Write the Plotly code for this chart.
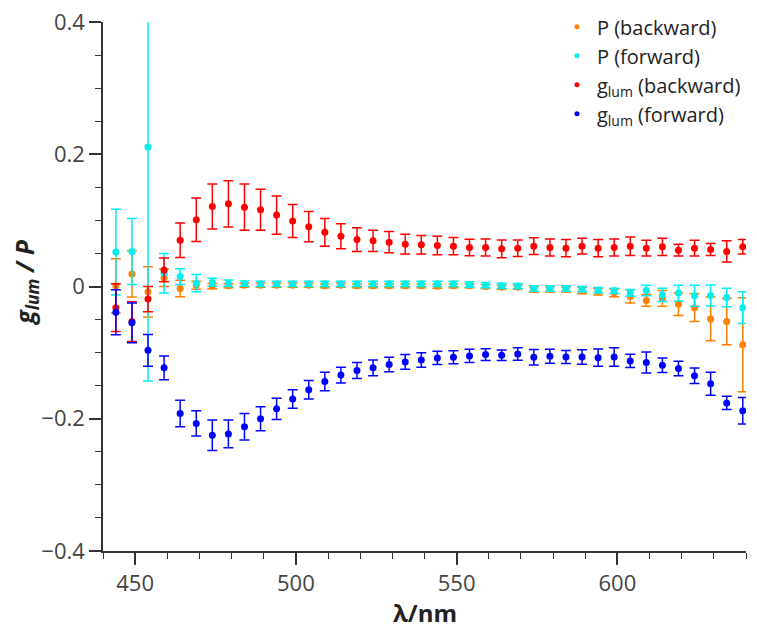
import plotly.graph_objects as go

# Emission wavelength (nm)
wavelength = [444, 449, 454, 459, 464, 469, 474, 479, 484, 489,
              494, 499, 504, 509, 514, 519, 524, 529, 534, 539,
              544, 549, 554, 559, 564, 569, 574, 579, 584, 589,
              594, 599, 604, 609, 614, 619, 624, 629, 634, 639]

# Degree of polarisation P, backward detection
p_back = [0.001, 0.019, -0.008, 0.013, -0.003, 0.002, 0.0005, 0.001, 0.002, 0.002,
          0.002, 0.002, 0.002, 0.001, 0.002, 0.001, 0.001, 0.001, 0.001, 0.001,
          0.0005, 0.001, 0.001, 0.0, -0.001, -0.001, -0.0045, -0.0045, -0.0045, -0.006,
          -0.008, -0.0096, -0.015, -0.021, -0.018, -0.027, -0.032, -0.049, -0.053, -0.088]
p_back_err = [0.041, 0.035, 0.038, 0.013, 0.0125, 0.006, 0.004, 0.003, 0.003, 0.003,
              0.003, 0.003, 0.003, 0.003, 0.003, 0.003, 0.003, 0.003, 0.003, 0.003,
              0.003, 0.003, 0.003, 0.003, 0.003, 0.003, 0.004, 0.004, 0.004, 0.005,
              0.005, 0.006, 0.010, 0.009, 0.012, 0.017, 0.021, 0.033, 0.035, 0.071]

# Degree of polarisation P, forward detection
p_fwd = [0.052, 0.053, 0.211, 0.020, 0.015, 0.005, 0.0065, 0.005, 0.0045, 0.004,
         0.004, 0.004, 0.004, 0.004, 0.004, 0.004, 0.004, 0.004, 0.004, 0.004,
         0.004, 0.004, 0.003, 0.002, 0.001, 0.0006, -0.003, -0.003, -0.003, -0.004,
         -0.0055, -0.0065, -0.0096, -0.006, -0.0126, -0.010, -0.014, -0.0136, -0.0167, -0.032]
p_fwd_err = [0.065, 0.050, 0.354, 0.030, 0.012, 0.013, 0.006, 0.005, 0.004, 0.004,
             0.004, 0.004, 0.004, 0.004, 0.004, 0.004, 0.004, 0.004, 0.004, 0.004,
             0.004, 0.004, 0.004, 0.004, 0.004, 0.004, 0.004, 0.004, 0.004, 0.004,
             0.004, 0.004, 0.005, 0.008, 0.010, 0.012, 0.016, 0.016, 0.014, 0.024]

# Luminescence dissymmetry factor g_lum, backward detection
g_back = [-0.032, -0.053, -0.019, 0.025, 0.070, 0.101, 0.121, 0.125, 0.120, 0.116,
          0.108, 0.099, 0.0905, 0.082, 0.076, 0.071, 0.069, 0.067, 0.064, 0.063,
          0.062, 0.061, 0.059, 0.059, 0.057, 0.058, 0.061, 0.059, 0.058, 0.061,
          0.058, 0.059, 0.061, 0.058, 0.060, 0.055, 0.058, 0.056, 0.053, 0.060]
g_back_err = [0.036, 0.030, 0.019, 0.018, 0.026, 0.033, 0.034, 0.035, 0.035, 0.031,
              0.029, 0.025, 0.023, 0.021, 0.019, 0.018, 0.016, 0.016, 0.015, 0.014,
              0.014, 0.013, 0.0125, 0.013, 0.0135, 0.0125, 0.0126, 0.013, 0.013, 0.012,
              0.013, 0.013, 0.014, 0.012, 0.013, 0.009, 0.012, 0.009, 0.016, 0.011]

# Luminescence dissymmetry factor g_lum, forward detection
g_fwd = [-0.039, -0.055, -0.0965, -0.123, -0.192, -0.207, -0.225, -0.223, -0.212, -0.200,
         -0.185, -0.170, -0.156, -0.1435, -0.134, -0.127, -0.123, -0.118, -0.114, -0.111,
         -0.108, -0.107, -0.105, -0.103, -0.104, -0.102, -0.107, -0.1055, -0.1066, -0.1066,
         -0.1076, -0.1066, -0.1126, -0.115, -0.119, -0.124, -0.135, -0.147, -0.176, -0.188]
g_fwd_err = [0.034, 0.030, 0.024, 0.018, 0.020, 0.019, 0.023, 0.021, 0.020, 0.018,
             0.016, 0.014, 0.014, 0.014, 0.012, 0.012, 0.012, 0.011, 0.011, 0.011,
             0.010, 0.010, 0.010, 0.009, 0.008, 0.0095, 0.0116, 0.0106, 0.010, 0.011,
             0.013, 0.014, 0.010, 0.016, 0.011, 0.011, 0.0116, 0.0175, 0.010, 0.020]

series = [
    ("P (backward)", p_back, p_back_err, "#ff8000"),
    ("P (forward)", p_fwd, p_fwd_err, "#00f0f0"),
    ("g<sub>lum</sub> (backward)", g_back, g_back_err, "#ff0000"),
    ("g<sub>lum</sub> (forward)", g_fwd, g_fwd_err, "#0000ff"),
]

FONT = "Open Sans"

fig = go.Figure()
for name, y, err, color in series:
    fig.add_trace(go.Scatter(
        x=wavelength, y=y, mode="markers", name=name, showlegend=False,
        marker=dict(color=color, size=7),
        error_y=dict(type="data", array=err, visible=True,
                     color=color, thickness=1.5, width=5),
    ))
# small dots for the legend entries
for name, y, err, color in series:
    fig.add_trace(go.Scatter(
        x=[None], y=[None], mode="markers", name=name,
        marker=dict(color=color, size=5),
    ))

fig.update_layout(
    width=757, height=630,
    margin=dict(l=103, r=11, t=22, b=79, autoexpand=False),
    paper_bgcolor="white", plot_bgcolor="white",
    font=dict(family=FONT, color="#333333", size=22),
    legend=dict(x=0.706, y=1.028, xanchor="left", yanchor="top",
                font=dict(family=FONT, size=20, color="#222222"),
                bgcolor="rgba(0,0,0,0)", tracegroupgap=0),
    xaxis=dict(
        range=[440, 640], tickvals=[450, 500, 550, 600],
        showgrid=False, zeroline=False,
        showline=True, linecolor="#333333", linewidth=1.5,
        ticks="outside", ticklen=12, tickwidth=1.5, tickcolor="#333333",
        minor=dict(dtick=10, tick0=440, ticks="outside", ticklen=6,
                   tickwidth=1.2, tickcolor="#333333"),
        tickfont=dict(size=22, color="#444444"),
    ),
    yaxis=dict(
        range=[-0.4, 0.4], tickvals=[-0.4, -0.2, 0, 0.2, 0.4],
        showgrid=False, zeroline=False,
        showline=True, linecolor="#333333", linewidth=1.5,
        ticks="outside", ticklen=12, tickwidth=1.5, tickcolor="#333333",
        minor=dict(dtick=0.05, tick0=0, ticks="outside", ticklen=6,
                   tickwidth=1.2, tickcolor="#333333"),
        tickfont=dict(size=22, color="#444444"),
    ),
    annotations=[
        dict(text="<b>λ/nm</b>", xref="paper", yref="paper",
             x=0.5008, y=-0.1172, xanchor="center", yanchor="middle",
             showarrow=False, font=dict(size=24, color="#222222")),
        dict(text="<b><i>g<sub>lum</sub> / P</i></b>", xref="paper", yref="paper",
             x=-0.1197, y=0.507, xanchor="center", yanchor="middle",
             textangle=-90, showarrow=False, font=dict(size=25, color="#222222")),
    ],
)

fig.write_html("out.html")
